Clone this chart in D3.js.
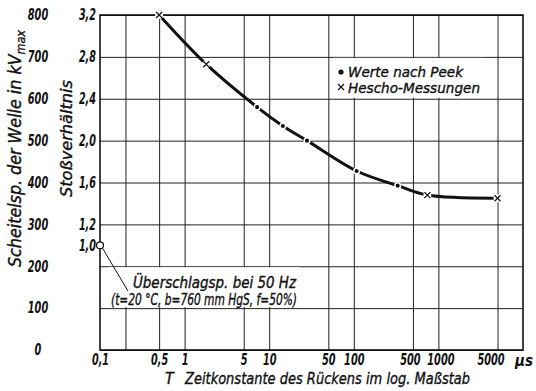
<!DOCTYPE html>
<html>
<head>
<meta charset="utf-8">
<script src="https://cdn.jsdelivr.net/npm/d3@7"></script>
<style>
  body { margin: 0; background: #fff; }
  svg { display: block; }
  text { font-family: "DejaVu Sans Condensed", "Liberation Sans", sans-serif; font-style: italic; fill: #111; }
  text.lab { stroke: #111; stroke-width: 0.35; }
</style>
</head>
<body>
<svg width="536" height="391"></svg>
<script>
// Werte: T in µs, Stoßverhältnis
const heschoT = [0.5, 1.8, 740, 5000];
const heschoRatio = [3.2, 2.73, 1.48, 1.45];
const peekT = [7.2, 14.5, 28, 108, 330];
const peekRatio = [2.32, 2.14, 2.0, 1.71, 1.57];
const flashT = [0.1];
const flashRatio = [1.0];

const kvTicks = [0, 100, 200, 300, 400, 500, 600, 700, 800];
const ratioTicks = [1.0, 1.2, 1.6, 2.0, 2.4, 2.8, 3.2];
const xTicks = [0.1, 0.5, 1, 5, 10, 50, 100, 500, 1000, 5000];
const xTickLabels = ['0,1', '0,5', '1', '5', '10', '50', '100', '500', '1000', '5000'];
const xGrid = [0.2, 0.5, 1, 5, 10, 50, 100, 500, 1000, 5000];

const pLeft = 100, pRight = 523, pTop = 15, pBottom = 350;
const svg = d3.select('svg');

const x = d3.scaleLog().domain([0.1, 10000]).range([pLeft, pRight]);
const yKV = d3.scaleLinear().domain([0, 800]).range([pBottom, pTop]);
// 1,0 entspricht 250 kV
const yR = d3.scaleLinear().domain([0, 3.2]).range([pBottom, pTop]);

const comma = d3.formatLocale({ decimal: ',', thousands: '.', grouping: [3], currency: ['', ''] }).format('.1f');

// schmale Ziffern wie im Original
function fitLabel(sel) {
    sel.attr('font-size', 15).attr('font-weight', 'bold').attr('font-family', null).attr('fill', '#111')
        .attr('lengthAdjust', 'spacingAndGlyphs')
        .attr('textLength', function () {
            const s = this.textContent;
            return s.replace(/,/g, '').length * 6.8 + (s.includes(',') ? 3.5 : 0);
        });
}

// Gitter
svg.append('g').attr('transform', `translate(${pLeft},0)`)
    .call(d3.axisLeft(yKV).tickValues(kvTicks).tickSize(-(pRight - pLeft)).tickFormat(''));
svg.append('g').attr('transform', `translate(0,${pBottom})`)
    .call(d3.axisBottom(x).tickValues(xGrid).tickSize(-(pBottom - pTop)).tickFormat(''));
svg.selectAll('.domain').remove();
svg.selectAll('.tick line').attr('stroke', '#222').attr('stroke-width', 1);

// weiße Felder hinter Legende und Beschriftung
svg.append('rect').attr('x', 333).attr('y', yKV(700) + 1).attr('width', 152).attr('height', yKV(600) - yKV(700) - 2).attr('fill', '#fff');
svg.append('rect').attr('x', 108).attr('y', yKV(200) + 1).attr('width', 192).attr('height', yKV(100) - yKV(200) - 2).attr('fill', '#fff');

svg.append('rect').attr('x', pLeft).attr('y', pTop).attr('width', pRight - pLeft).attr('height', pBottom - pTop)
    .attr('fill', 'none').attr('stroke', '#111').attr('stroke-width', 1.6);

// Achsenbeschriftungen
const axKV = svg.append('g').attr('transform', 'translate(38,0)')
    .call(d3.axisLeft(yKV).tickValues(kvTicks).tickSize(0).tickPadding(0));
axKV.selectAll('text').attr('text-anchor', 'middle');
const axR = svg.append('g').attr('transform', 'translate(96,0)')
    .call(d3.axisLeft(yR).tickValues(ratioTicks).tickSize(0).tickPadding(0).tickFormat(comma));
const axX = svg.append('g').attr('transform', `translate(0,${pBottom})`)
    .call(d3.axisBottom(x).tickValues(xTicks).tickSize(0).tickPadding(4).tickFormat((d, i) => xTickLabels[i]));
// enge Beschriftungen etwas auseinanderrücken
const nudge = { 500: -3, 1000: 2, 5000: -7 };
axX.selectAll('text').attr('x', d => nudge[d] || 0);
svg.selectAll('.domain').remove();
[axKV, axR, axX].forEach(a => fitLabel(a.selectAll('text')));

svg.append('text').attr('x', 515).attr('y', pBottom + 16).attr('font-size', 15).attr('font-weight', 'bold')
    .attr('textLength', 18).attr('lengthAdjust', 'spacingAndGlyphs').text('µs');

// Kurve
const pts = heschoT.map((t, i) => [t, heschoRatio[i]])
    .concat(peekT.map((t, i) => [t, peekRatio[i]]))
    .sort((a, b) => a[0] - b[0]);
const line = d3.line().x(d => x(d[0])).y(d => yR(d[1])).curve(d3.curveCatmullRom.alpha(0.5));
svg.append('path').attr('d', line(pts)).attr('fill', 'none').attr('stroke', '#111')
    .attr('stroke-width', 3).attr('stroke-linecap', 'round');

// Punkte nach Peek
svg.append('g').selectAll('circle').data(peekT).join('circle')
    .attr('cx', d => x(d)).attr('cy', (d, i) => yR(peekRatio[i])).attr('r', 2.8)
    .attr('fill', '#111').attr('stroke', '#fff').attr('stroke-width', 1.5);

// Hescho-Messungen
const hg = svg.append('g').selectAll('g').data(heschoT).join('g')
    .attr('transform', (d, i) => `translate(${x(d)},${yR(heschoRatio[i])})`);
hg.append('circle').attr('r', 4).attr('fill', '#fff');
hg.append('path').attr('d', 'M-3,-3L3,3M-3,3L3,-3').attr('stroke', '#111').attr('stroke-width', 1.2);

// Überschlagsspannung bei 50 Hz
svg.append('line').attr('x1', x(flashT[0]) + 2).attr('y1', yR(flashRatio[0]) + 2)
    .attr('x2', 128).attr('y2', 291).attr('stroke', '#111').attr('stroke-width', 1);
svg.selectAll('.flash').data(flashT).join('circle').attr('class', 'flash')
    .attr('cx', d => x(d)).attr('cy', (d, i) => yR(flashRatio[i])).attr('r', 3.5)
    .attr('fill', '#fff').attr('stroke', '#111').attr('stroke-width', 1.2);

svg.append('text').attr('class', 'lab').attr('x', 133).attr('y', 288).attr('font-size', 15)
    .attr('textLength', 163).attr('lengthAdjust', 'spacingAndGlyphs').text('Überschlagsp. bei 50 Hz');
svg.append('text').attr('class', 'lab').attr('x', 111).attr('y', 305).attr('font-size', 15)
    .attr('textLength', 186).attr('lengthAdjust', 'spacingAndGlyphs').text('(t=20 °C, b=760 mm HgS, f=50%)');

// Legende
svg.append('circle').attr('cx', 341).attr('cy', 72).attr('r', 2.6).attr('fill', '#111');
svg.append('path').attr('d', 'M338,84L344,90M338,90L344,84').attr('stroke', '#111').attr('stroke-width', 1.2);
svg.append('text').attr('class', 'lab').attr('x', 348).attr('y', 77).attr('font-size', 14.5)
    .attr('textLength', 115).attr('lengthAdjust', 'spacingAndGlyphs').text('Werte nach Peek');
svg.append('text').attr('class', 'lab').attr('x', 348).attr('y', 93).attr('font-size', 14.5)
    .attr('textLength', 132).attr('lengthAdjust', 'spacingAndGlyphs').text('Hescho-Messungen');

// Titel
const t1 = svg.append('text').attr('class', 'lab').attr('transform', 'translate(21,267) rotate(-90)').attr('font-size', 17)
    .attr('textLength', 237).attr('lengthAdjust', 'spacingAndGlyphs');
t1.append('tspan').text('Scheitelsp. der Welle in kV');
t1.append('tspan').attr('font-size', 12).attr('dy', 4).text('max');
svg.append('text').attr('class', 'lab').attr('transform', 'translate(72,197) rotate(-90)').attr('font-size', 16)
    .attr('textLength', 117).attr('lengthAdjust', 'spacingAndGlyphs').text('Stoßverhältnis');
svg.append('text').attr('class', 'lab').attr('x', 165).attr('y', 384).attr('font-size', 16).text('T');
svg.append('text').attr('class', 'lab').attr('x', 185).attr('y', 384).attr('font-size', 16)
    .attr('textLength', 285).attr('lengthAdjust', 'spacingAndGlyphs').text('Zeitkonstante des Rückens im log. Maßstab');
</script>
</body>
</html>
